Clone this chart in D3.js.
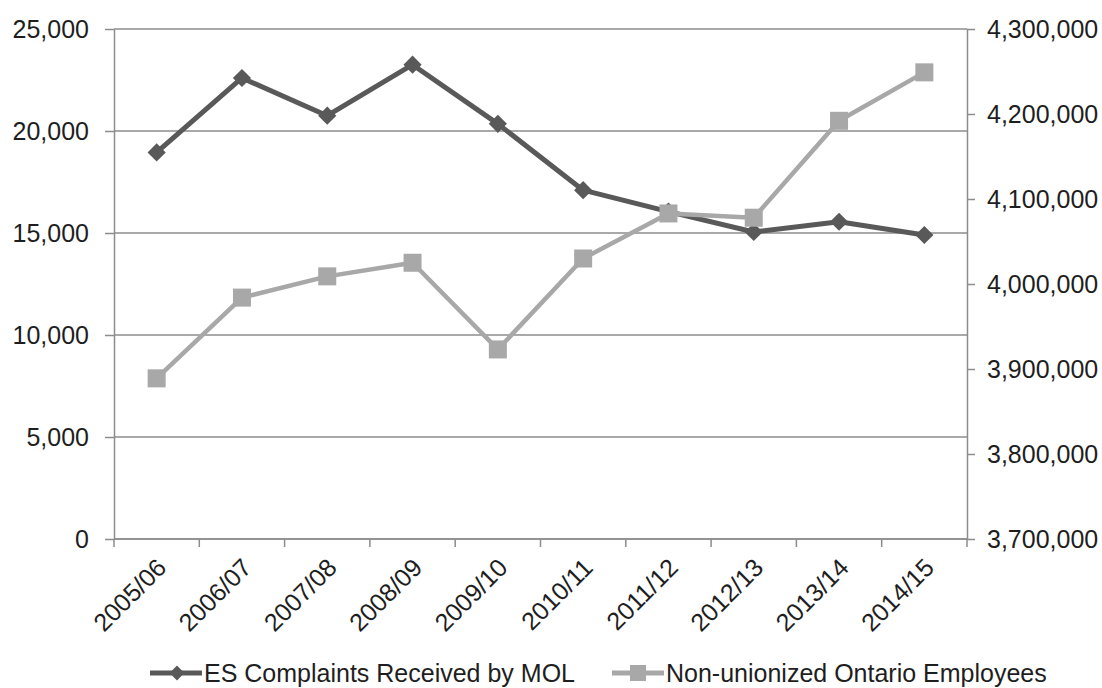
<!DOCTYPE html>
<html>
<head>
<meta charset="utf-8">
<script src="https://cdn.jsdelivr.net/npm/d3@7/dist/d3.min.js"></script>
<style>
  html, body { margin: 0; padding: 0; background: #ffffff; }
  svg { display: block; }
  text { font-family: "Liberation Sans", Arial, sans-serif; fill: #1e1e1e; }
</style>
</head>
<body>
<svg id="chart" width="1102" height="688"></svg>
<script>
// Fiscal years on the category axis
const categories = ["2005/06", "2006/07", "2007/08", "2008/09", "2009/10",
                    "2010/11", "2011/12", "2012/13", "2013/14", "2014/15"];

// Employment Standards complaints received by the Ministry of Labour (left axis)
const complaints = [18950, 22600, 20750, 23250, 20350, 17100, 16050, 15050, 15550, 14900];

// Non-unionized employees in Ontario (right axis)
const employees = [3889000, 3984000, 4009000, 4025000, 3923000,
                   4030000, 4083000, 4078000, 4192000, 4249000];

const leftTicks = [0, 5000, 10000, 15000, 20000, 25000];
const rightTicks = [3700000, 3800000, 3900000, 4000000, 4100000, 4200000, 4300000];

const seriesNames = ["ES Complaints Received by MOL", "Non-unionized Ontario Employees"];

const svg = d3.select("#chart");
const plot = { left: 114, right: 967, top: 29, bottom: 539 };

const axisColor = "#8c8c8c";
const darkColor = "#595959";
const lightColor = "#a8a8a8";
const fontSize = 25;

const x = d3.scaleBand().domain(categories).range([plot.left, plot.right]).padding(0);
const yLeft = d3.scaleLinear().domain([0, 25000]).range([plot.bottom, plot.top]);
const yRight = d3.scaleLinear().domain([3700000, 4300000]).range([plot.bottom, plot.top]);
const cx = c => x(c) + x.bandwidth() / 2;
const fmt = d3.format(",");

// Horizontal gridlines on the left-axis ticks
svg.append("g")
  .selectAll("line")
  .data(leftTicks)
  .join("line")
  .attr("x1", plot.left).attr("x2", plot.right)
  .attr("y1", d => yLeft(d)).attr("y2", d => yLeft(d))
  .attr("stroke", axisColor).attr("stroke-width", 1.5);

// Left axis
const gLeft = svg.append("g")
  .attr("transform", `translate(${plot.left},0)`)
  .call(d3.axisLeft(yLeft).tickValues(leftTicks).tickFormat(fmt).tickSizeOuter(0).tickSizeInner(9).tickPadding(16));
gLeft.select(".domain").attr("stroke", axisColor).attr("stroke-width", 1.5);
gLeft.selectAll(".tick line").attr("stroke", axisColor).attr("stroke-width", 1.5);
gLeft.selectAll(".tick text").attr("font-size", fontSize).attr("fill", "#1e1e1e")
  .style("font-family", "'Liberation Sans', Arial, sans-serif");

// Right axis
const gRight = svg.append("g")
  .attr("transform", `translate(${plot.right},0)`)
  .call(d3.axisRight(yRight).tickValues(rightTicks).tickFormat(fmt).tickSizeOuter(0).tickSizeInner(8).tickPadding(12));
gRight.select(".domain").attr("stroke", axisColor).attr("stroke-width", 1.5);
gRight.selectAll(".tick line").attr("stroke", axisColor).attr("stroke-width", 1.5);
gRight.selectAll(".tick text").attr("font-size", fontSize).attr("fill", "#1e1e1e")
  .style("font-family", "'Liberation Sans', Arial, sans-serif");

// Bottom axis: tick marks sit between categories, labels at category centres
const gBottom = svg.append("g").attr("transform", `translate(0,${plot.bottom})`);
gBottom.append("line")
  .attr("x1", plot.left).attr("x2", plot.right)
  .attr("stroke", axisColor).attr("stroke-width", 1.5);
const boundaries = categories.map(c => x(c)).concat([x.range()[1]]);
gBottom.selectAll("line.tick")
  .data(boundaries)
  .join("line")
  .attr("class", "tick")
  .attr("x1", d => d).attr("x2", d => d)
  .attr("y1", 0).attr("y2", 8)
  .attr("stroke", axisColor).attr("stroke-width", 1.5);
gBottom.selectAll("text")
  .data(categories)
  .join("text")
  .attr("transform", c => `translate(${cx(c) + 5},${24}) rotate(-45)`)
  .attr("text-anchor", "end")
  .attr("dy", "0.35em")
  .attr("font-size", fontSize)
  .text(c => c);

// Series lines
const lineLeft = d3.line().x((d, i) => cx(categories[i])).y(d => yLeft(d));
const lineRight = d3.line().x((d, i) => cx(categories[i])).y(d => yRight(d));

svg.append("path")
  .datum(complaints)
  .attr("d", lineLeft)
  .attr("fill", "none")
  .attr("stroke", darkColor)
  .attr("stroke-width", 5)
  .attr("stroke-linejoin", "round");

svg.append("g")
  .selectAll("path")
  .data(complaints)
  .join("path")
  .attr("d", d3.symbol(d3.symbolSquare, 165))
  .attr("transform", (d, i) => `translate(${cx(categories[i])},${yLeft(d)}) rotate(45)`)
  .attr("fill", darkColor);

svg.append("path")
  .datum(employees)
  .attr("d", lineRight)
  .attr("fill", "none")
  .attr("stroke", lightColor)
  .attr("stroke-width", 4.5)
  .attr("stroke-linejoin", "round");

svg.append("g")
  .selectAll("rect")
  .data(employees)
  .join("rect")
  .attr("x", (d, i) => cx(categories[i]) - 9)
  .attr("y", d => yRight(d) - 9)
  .attr("width", 18).attr("height", 18)
  .attr("fill", lightColor);

// Legend
const legend = svg.append("g").attr("transform", "translate(0,673)");
const items = [
  { name: seriesNames[0], color: darkColor, shape: "diamond", x0: 150 },
  { name: seriesNames[1], color: lightColor, shape: "square", x0: 612 }
];
items.forEach(it => {
  const g = legend.append("g").attr("transform", `translate(${it.x0},0)`);
  g.append("line").attr("x1", 0).attr("x2", 52)
    .attr("stroke", it.color).attr("stroke-width", 5);
  if (it.shape === "diamond") {
    g.append("path").attr("d", d3.symbol(d3.symbolSquare, 110))
      .attr("transform", "translate(27,0) rotate(45)").attr("fill", it.color);
  } else {
    g.append("rect").attr("x", 18).attr("y", -8).attr("width", 16).attr("height", 16)
      .attr("fill", it.color);
  }
  g.append("text").attr("x", 54).attr("dy", "0.35em")
    .attr("font-size", fontSize).text(it.name);
});
</script>
</body>
</html>
